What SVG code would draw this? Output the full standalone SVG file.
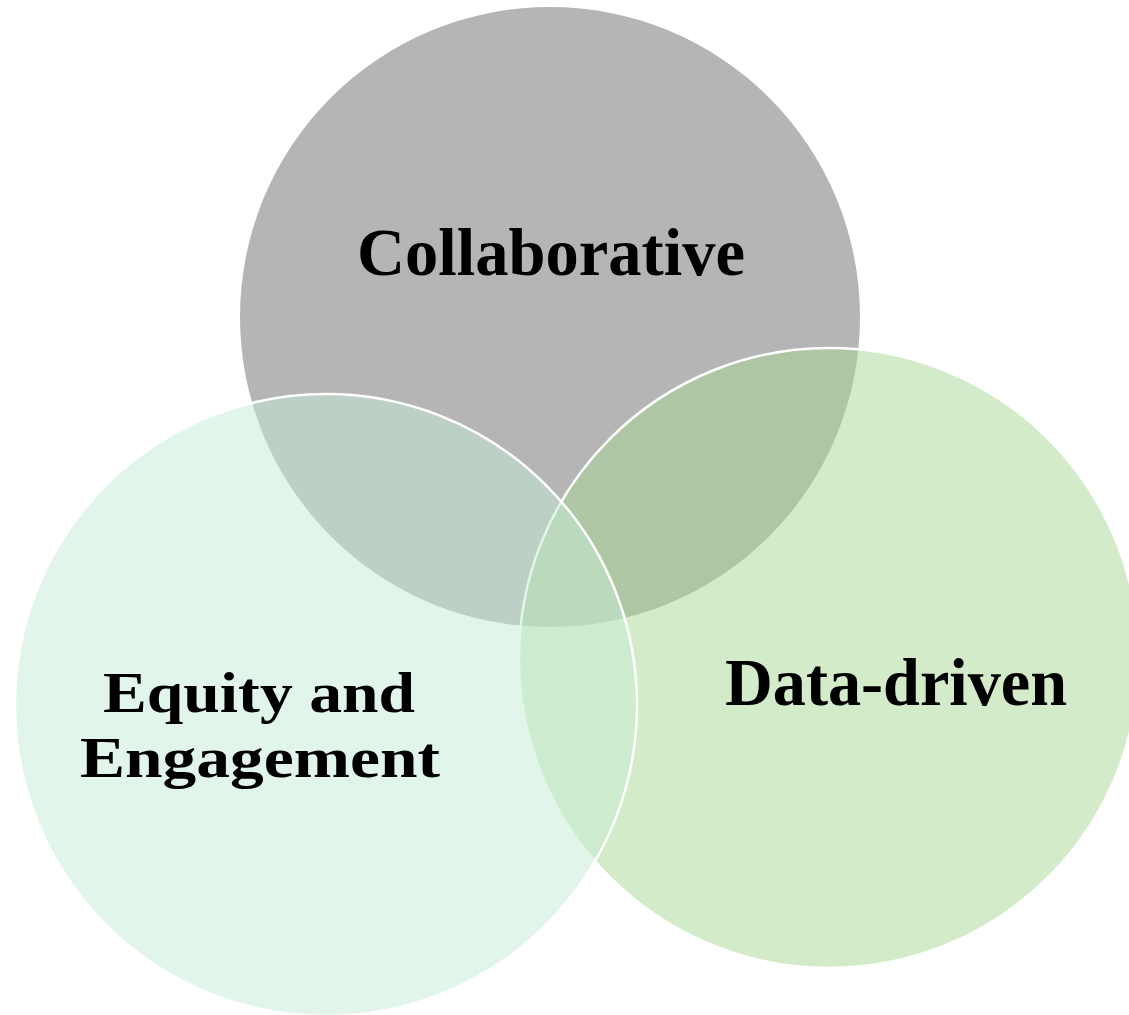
<svg xmlns="http://www.w3.org/2000/svg" width="1129" height="1015" viewBox="0 0 1129 1015">
<style>
.lbl{font-family:"Liberation Serif","Times New Roman",serif;font-weight:bold;font-size:68px;fill:#000;text-anchor:middle}
.sm{font-size:58px}
.ring{stroke:#ffffff;stroke-width:2.5}
</style>
<rect width="1129" height="1015" fill="#ffffff"/>
<g id="collaborative">
<circle cx="550" cy="317" r="310" fill="#b5b5b5"/>
</g>
<g id="data-driven">
<circle class="ring" cx="829" cy="658" r="310" fill="rgb(167,215,147)" fill-opacity="0.5"/>
</g>
<g id="equity">
<circle class="ring" cx="326" cy="705" r="311" fill="rgb(197,235,213)" fill-opacity="0.5"/>
</g>
<g id="labels">
<text class="lbl" x="551" y="275" textLength="388" lengthAdjust="spacingAndGlyphs">Collaborative</text>
<text class="lbl" x="896" y="705" textLength="342" lengthAdjust="spacingAndGlyphs">Data-driven</text>
<text class="lbl sm" x="259" y="712" textLength="312" lengthAdjust="spacingAndGlyphs">Equity and</text>
<text class="lbl sm" x="260" y="777" textLength="360" lengthAdjust="spacingAndGlyphs">Engagement</text>
</g>
<g id="connectors"/>
</svg>
